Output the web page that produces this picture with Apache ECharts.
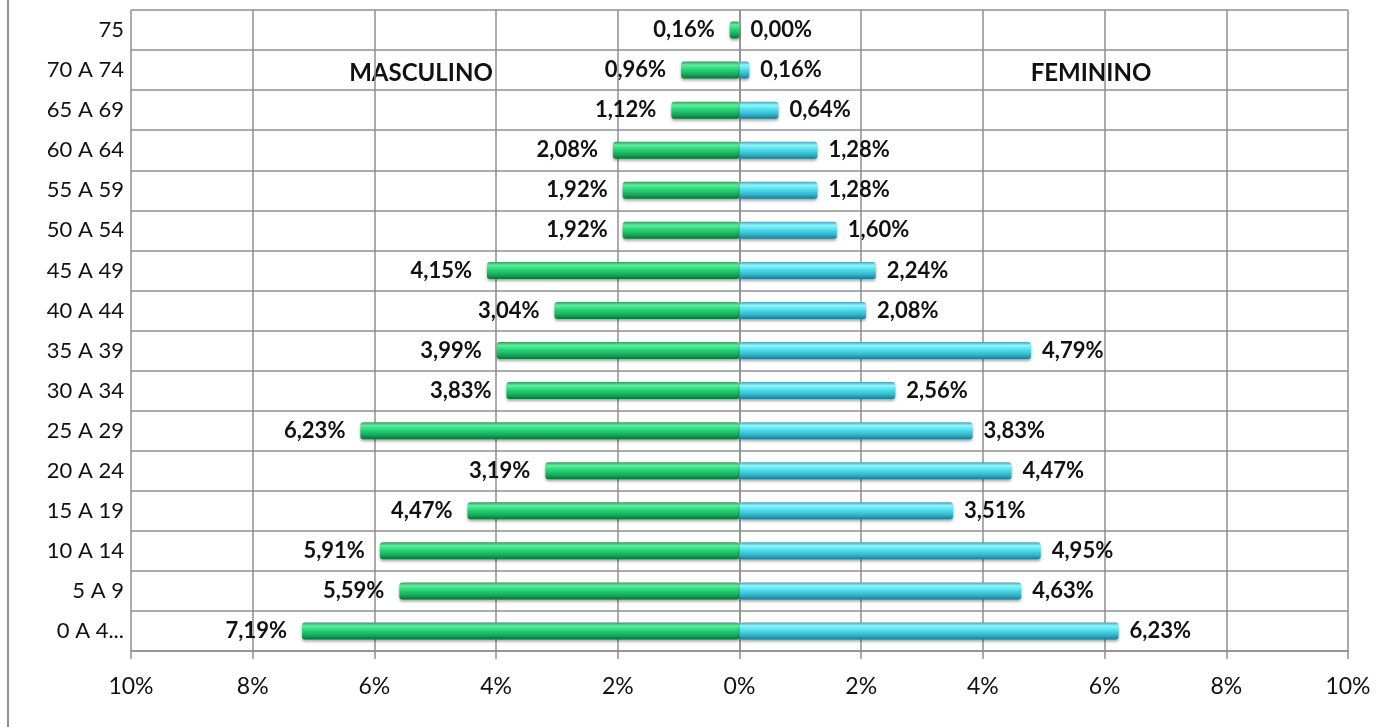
<!DOCTYPE html>
<html><head><meta charset="utf-8">
<script src="https://cdn.jsdelivr.net/npm/echarts@6/dist/echarts.min.js"></script>
<style>html,body{margin:0;padding:0;background:#fff}#c{width:1389px;height:727px}</style>
</head><body><div id="c"></div>
<script>
const categories = ['0 A 4...', '5 A 9', '10 A 14', '15 A 19', '20 A 24', '25 A 29', '30 A 34', '35 A 39', '40 A 44', '45 A 49', '50 A 54', '55 A 59', '60 A 64', '65 A 69', '70 A 74', '75'];
const masculino = [7.19, 5.59, 5.91, 4.47, 3.19, 6.23, 3.83, 3.99, 3.04, 4.15, 1.92, 1.92, 2.08, 1.12, 0.96, 0.16];
const feminino = [6.23, 4.63, 4.95, 3.51, 4.47, 3.83, 2.56, 4.79, 2.08, 2.24, 1.60, 1.28, 1.28, 0.64, 0.16, 0.00];
const xTicks = [-10, -8, -6, -4, -2, 0, 2, 4, 6, 8, 10];

const FONT = 'Lato, "Open Sans", sans-serif';
const fmt = v => Math.abs(v).toFixed(2).replace('.', ',') + '%';
const gridColor = '#8f8f8f';

const chart = echarts.init(document.getElementById('c'));
const greenGrad = new echarts.graphic.LinearGradient(0, 0, 0, 1, [
  {offset: 0, color: '#2a9f5e'}, {offset: 0.2, color: '#5ef09c'}, {offset: 0.45, color: '#27d678'},
  {offset: 0.75, color: '#1aa95c'}, {offset: 1, color: '#0f6d3a'}]);
const cyanGrad = new echarts.graphic.LinearGradient(0, 0, 0, 1, [
  {offset: 0, color: '#3aa7bd'}, {offset: 0.2, color: '#8ff6fc'}, {offset: 0.45, color: '#4fe0ef'},
  {offset: 0.75, color: '#35b3c8'}, {offset: 1, color: '#23788c'}]);

chart.setOption({
  animation: false,
  backgroundColor: '#ffffff',
  grid: {left: 131, right: 41, top: 10, bottom: 76},
  xAxis: {
    type: 'value', min: xTicks[0], max: xTicks[xTicks.length - 1], interval: 2,
    axisLine: {show: true, lineStyle: {color: gridColor, width: 1.5}},
    axisTick: {show: true, length: 8, lineStyle: {color: gridColor, width: 1.5}},
    splitLine: {show: true, lineStyle: {color: gridColor, width: 1.5}},
    axisLabel: {formatter: v => Math.abs(v) + '%', color: '#111', fontSize: 23, fontFamily: FONT, margin: 24}
  },
  yAxis: {
    type: 'category', data: categories,
    axisLine: {show: true, lineStyle: {color: gridColor, width: 1.5}},
    axisTick: {show: false},
    splitLine: {show: true, lineStyle: {color: gridColor, width: 1.5}},
    axisLabel: {color: '#111', fontSize: 22, fontFamily: FONT, margin: 7}
  },
  series: [
    {
      name: 'MASCULINO', type: 'bar', data: masculino.map(v => -v), barWidth: 17, barGap: '-100%',
      itemStyle: {color: greenGrad, borderRadius: 3, shadowBlur: 3, shadowColor: 'rgba(0,0,0,0.35)', shadowOffsetY: 2},
      label: {show: true, position: 'left', distance: 15, formatter: p => fmt(p.value),
        color: '#111', fontWeight: 'bold', fontSize: 22, fontFamily: FONT}
    },
    {
      name: 'FEMININO', type: 'bar', data: feminino, barWidth: 17,
      itemStyle: {color: cyanGrad, borderRadius: 3, shadowBlur: 3, shadowColor: 'rgba(0,0,0,0.35)', shadowOffsetY: 2},
      label: {show: true, position: 'right', distance: 11, formatter: p => fmt(p.value),
        color: '#111', fontWeight: 'bold', fontSize: 22, fontFamily: FONT}
    }
  ],
  graphic: [
    {type: 'line', shape: {x1: 8, y1: 0, x2: 8, y2: 727}, style: {stroke: '#8f8f8f', lineWidth: 2}},
    {type: 'text', x: 421, y: 73, style: {text: 'MASCULINO', font: 'bold 24px ' + FONT, fill: '#111', align: 'center', verticalAlign: 'middle'}},
    {type: 'text', x: 1091, y: 73, style: {text: 'FEMININO', font: 'bold 24px ' + FONT, fill: '#111', align: 'center', verticalAlign: 'middle'}}
  ]
});
</script></body></html>
